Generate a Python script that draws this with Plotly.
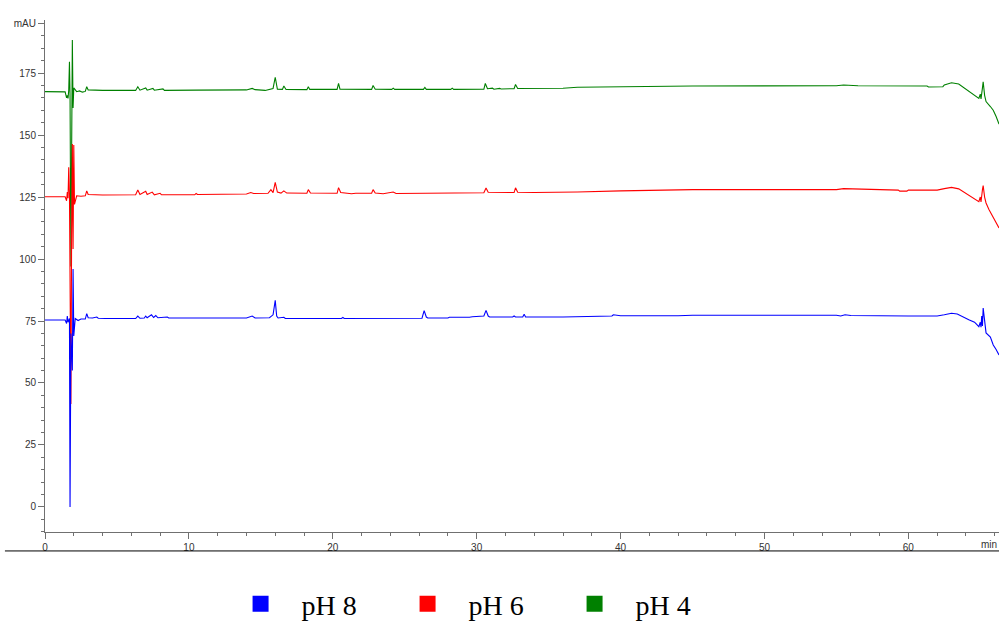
import plotly.graph_objects as go

# ---- data (retention time in min, absorbance in mAU) ----
ph8_time = [0, 1.4, 1.5, 1.55, 1.6, 1.7, 1.74, 1.8, 1.9, 1.95, 2.0, 2.1, 2.3, 2.5, 2.8, 2.9, 3.0, 3.3, 3.6, 3.7,
            4.2, 5.0, 6.3, 6.45, 6.6, 6.9, 7.0, 7.1, 7.4, 7.55, 7.7, 7.85, 8.5, 8.6, 10.5, 14.0, 14.4, 14.6,
            15.6, 15.85, 16.0, 16.1, 16.2, 16.6, 16.7, 20.6, 20.7, 20.8, 26.2, 26.35, 26.5, 26.6, 28.0, 28.1,
            29.5, 29.7, 30.5, 30.65, 30.8, 30.9, 32.5, 32.6, 32.7, 33.2, 33.3, 33.4, 36.0, 37.0, 38.5, 39.4,
            39.5, 39.7, 40.0, 44.0, 45.0, 55.0, 55.3, 55.6, 56.0, 60.0, 62.0, 62.5, 63.0, 63.4, 63.8, 64.2,
            64.6, 64.8, 64.9, 65.0, 65.05, 65.1, 65.15, 65.2, 65.3, 65.4, 65.7, 65.9, 66.1, 66.3]
ph8_mau = [75.4, 75.4, 74, 77, 74.5, 76, 0, 70, 55, 96, 69, 76, 75.2, 75.8, 75.8, 78, 76.3, 76.2, 76.6, 76.1,
           76.0, 75.9, 76.0, 77, 76.1, 76.2, 77, 76.3, 77.5, 76.4, 77.2, 76.3, 76.6, 76.2, 76.2, 76.2, 77.0, 76.2,
           76.3, 77.5, 83.3, 77, 76.2, 76.5, 76.0, 76.0, 76.4, 76.0, 76.1, 79.2, 76.6, 76.2, 76.2, 76.5,
           76.5, 76.7, 77.0, 79.3, 77, 76.6, 76.6, 77.0, 76.6, 76.6, 77.7, 76.6, 76.6, 76.8, 77.0, 77.0,
           77.5, 77.3, 77.1, 77.1, 77.3, 77.3, 77.0, 77.5, 77.2, 77.0, 77.0, 77.5, 78.1, 77.8, 76.5, 75.5,
           74.5, 73.2, 72.7, 74.5, 72.5, 77, 73, 80.2, 75, 70.2, 68.5, 65.3, 63.5, 61.3]

ph6_time = [0, 1.4, 1.5, 1.55, 1.6, 1.65, 1.7, 1.74, 1.8, 1.85, 1.9, 1.95, 2.0, 2.05, 2.2, 2.5, 2.8, 2.9, 3.0,
            3.5, 4.0, 6.3, 6.45, 6.6, 7.0, 7.1, 7.45, 7.6, 8.0, 8.1, 10.4, 10.5, 10.6, 14.0, 14.3, 14.5, 15.5,
            15.7, 15.85, 16.0, 16.15, 16.4, 16.6, 16.8, 17.5, 18.2, 18.3, 18.45, 20.3, 20.4, 20.55, 21.0, 21.3,
            21.6, 22.7, 22.8, 22.95, 23.5, 24.2, 24.4, 26.0, 28.3, 30.5, 30.65, 30.8, 32.6, 32.7, 32.85, 34.0,
            37.0, 40.0, 45.0, 55.0, 55.5, 56.5, 59.3, 59.4, 59.9, 60.0, 62.0, 62.5, 63.0, 63.5, 64.0, 64.5,
            64.9, 65.0, 65.05, 65.15, 65.2, 65.3, 65.4, 65.6, 65.9, 66.1, 66.3]
ph6_mau = [125.1, 125.1, 123.5, 127, 124.5, 137, 126, 100, 41.5, 110, 146.4, 104, 146, 122, 125.5, 125.3, 125.5,
           127.5, 126, 125.9, 125.8, 125.9, 127.8, 126, 127.3, 126, 127, 125.9, 126.5, 125.9, 125.9, 126.4, 126,
           126.2, 126.8, 126.4, 126.5, 128, 126.8, 130.9, 127, 126.6, 127.5, 126.6, 126.4, 126.5, 128, 126.6,
           126.5, 128.8, 126.8, 126.5, 126.3, 126.5, 126.5, 128, 126.6, 126.3, 127, 126.4, 126.5, 126.6, 126.7,
           128.6, 126.9, 126.8, 128.7, 126.9, 126.8, 127.0, 127.5, 128.0, 128.0, 128.4, 128.2, 127.8, 127.4,
           127.4, 127.8, 127.8, 128.4, 128.9, 128.3, 126.5, 124.5, 123.1, 125, 123, 128, 129.6, 125, 122.6,
           120, 117, 115, 112.5]

ph4_time = [0, 1.4, 1.5, 1.55, 1.6, 1.65, 1.7, 1.74, 1.8, 1.85, 1.9, 1.95, 2.0, 2.2, 2.4, 2.6, 2.8, 2.9, 3.0,
            4.0, 6.3, 6.45, 6.6, 7.0, 7.1, 7.5, 7.6, 8.2, 8.3, 10.5, 14.0, 14.4, 14.6, 15.3, 15.6, 15.85, 16.0,
            16.15, 16.5, 16.6, 16.75, 18.2, 18.3, 18.4, 20.3, 20.4, 20.5, 22.7, 22.8, 22.95, 24.1, 24.2, 24.3,
            26.3, 26.4, 26.5, 28.2, 28.3, 28.4, 30.5, 30.6, 30.75, 31.1, 31.2, 31.6, 31.7, 32.6, 32.7, 32.85,
            36.0, 37.0, 40.0, 45.0, 55.0, 55.5, 56.5, 61.3, 61.4, 62.4, 62.5, 63.0, 63.5, 64.0, 64.5, 64.9,
            65.0, 65.05, 65.15, 65.2, 65.3, 65.4, 65.7, 65.9, 66.1, 66.3]
ph4_mau = [167.5, 167.4, 165, 166, 164.8, 168, 179.6, 166, 97, 161, 188.3, 160.9, 169, 167.5, 167.8, 167.3,
           167.6, 169.5, 168.2, 168.0, 168.0, 169.5, 168.1, 169, 168.1, 168.8, 168.1, 168.6, 168.0, 168.1,
           168.2, 168.8, 168.3, 168.0, 168.4, 168.8, 173.3, 168.5, 168.4, 169.8, 168.4, 168.3, 169.5, 168.4,
           168.4, 170.8, 168.5, 168.4, 170, 168.5, 168.4, 168.9, 168.4, 168.4, 169.2, 168.4, 168.4, 168.9,
           168.4, 168.5, 170.8, 168.7, 168.9, 168.5, 168.8, 168.6, 168.7, 170.4, 168.8, 168.9, 169.3, 169.5,
           169.8, 169.9, 170.2, 169.9, 169.8, 169.4, 169.5, 170.2, 171.1, 170.6, 168.5, 166.5, 164.8, 166.5,
           164.6, 169, 171.5, 166, 163.5, 161.5, 160, 157.5, 154.4]

series_names = ["pH 8", "pH 6", "pH 4"]
series_colors = ["#0000ff", "#ff0000", "#008000"]

y_tickvals = [0, 25, 50, 75, 100, 125, 150, 175, 195]
y_ticktext = ["0", "25", "50", "75", "100", "125", "150", "175", "mAU"]
x_tickvals = [0, 10, 20, 30, 40, 50, 60]

fig = go.Figure()

series = [(ph8_time, ph8_mau), (ph6_time, ph6_mau), (ph4_time, ph4_mau)]
# draw green first, then red, then blue on top
for idx in [2, 1, 0]:
    t, a = series[idx]
    fig.add_trace(go.Scatter(x=t, y=a, mode="lines", line=dict(color=series_colors[idx], width=1.1),
                             showlegend=False, hoverinfo="skip"))

# legend entries with square swatches
for name, col in zip(series_names, series_colors):
    fig.add_trace(go.Scatter(x=[None], y=[None], mode="markers", name="\u00a0\u00a0\u00a0" + name,
                             marker=dict(symbol="square", size=17, color=col)))

axis_col = "#707070"
fig.update_layout(
    width=999, height=622,
    margin=dict(l=45, r=0, t=20, b=90),
    paper_bgcolor="white", plot_bgcolor="white",
    showlegend=True,
    legend=dict(orientation="h", x=0.205, xanchor="left", xref="paper",
                yref="container", y=0.029, yanchor="middle",
                font=dict(family="Liberation Serif", size=28, color="black"),
                entrywidth=122, entrywidthmode="pixels", itemclick=False),
    xaxis=dict(range=[0, 66.3], showgrid=False, zeroline=False, showline=True, linecolor=axis_col,
               linewidth=1, ticks="outside", ticklen=6, tickcolor=axis_col, tickvals=x_tickvals,
               tickfont=dict(family="Liberation Sans", size=10, color="#333333"),
               minor=dict(dtick=2, tick0=0, ticks="outside", ticklen=3, tickcolor=axis_col)),
    yaxis=dict(range=[-10.1, 196.4], showgrid=False, zeroline=False, showline=True, linecolor=axis_col,
               linewidth=1, ticks="outside", ticklen=6, tickcolor=axis_col, tickvals=y_tickvals,
               ticktext=y_ticktext,
               tickfont=dict(family="Liberation Sans", size=10, color="#333333"),
               minor=dict(dtick=5, tick0=0, ticks="outside", ticklen=3, tickcolor=axis_col)),
)

fig.add_annotation(x=66.3, y=0, xref="x", yref="paper", yanchor="top", xanchor="right", yshift=-5,
                   text="min", showarrow=False, font=dict(family="Liberation Sans", size=10, color="#333333"))

fig.add_shape(type="line", xref="paper", yref="paper", x0=-0.042, x1=1.0, y0=-0.037, y1=-0.037,
              line=dict(color="black", width=1))

fig.write_html("out.html")
